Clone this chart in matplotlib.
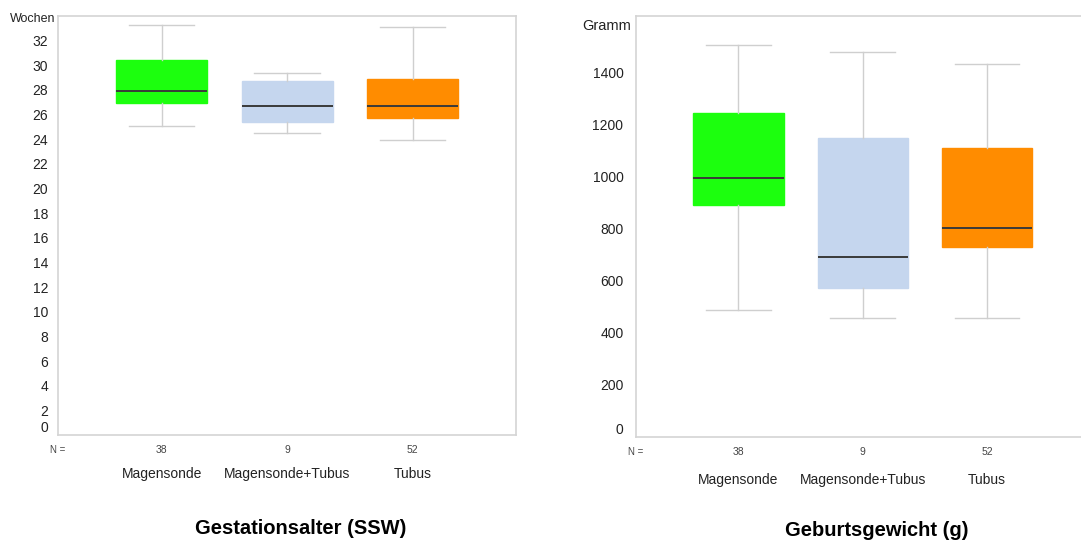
import matplotlib.pyplot as plt

plt.rcParams['font.family'] = ['Liberation Sans', 'DejaVu Sans']

groups = ['Magensonde', 'Magensonde+Tubus', 'Tubus']
n_counts = [38, 9, 52]
colors = ['#1cff0e', '#c5d6ee', '#ff8c00']

# Gestationsalter (Wochen)
ga_whislo = [25.1, 24.5, 23.9]
ga_q1 = [26.9, 25.4, 25.7]
ga_med = [27.9, 26.7, 26.7]
ga_q3 = [30.4, 28.7, 28.9]
ga_whishi = [33.3, 29.4, 33.1]

# Geburtsgewicht (Gramm)
gw_whislo = [488, 457, 457]
gw_q1 = [890, 573, 729]
gw_med = [995, 692, 802]
gw_q3 = [1243, 1148, 1110]
gw_whishi = [1504, 1478, 1432]

ga_ticks = list(range(0, 33, 2))
gw_ticks = list(range(0, 1401, 200))


def make_stats(lo, q1, med, q3, hi):
    return [dict(whislo=a, q1=b, med=c, q3=d, whishi=e, fliers=[])
            for a, b, c, d, e in zip(lo, q1, med, q3, hi)]


def draw_panel(ax, stats, ylim, yticks, unit, unit_xy, unit_size, title, tick_pad, cat_pad):
    pos = list(range(1, len(groups) + 1))
    bp = ax.bxp(stats, positions=pos, widths=0.725, patch_artist=True,
                showfliers=False,
                whiskerprops=dict(color='#cfcfcf', lw=1),
                capprops=dict(color='#cfcfcf', lw=1),
                medianprops=dict(color='#3a3a3a', lw=1.4),
                capwidths=0.52)
    for patch, c in zip(bp['boxes'], colors):
        patch.set_facecolor(c)
        patch.set_edgecolor(c)
    ax.set_xlim(0.175, 3.825)
    ax.set_ylim(*ylim)
    ax.set_yticks(yticks)
    ax.tick_params(axis='y', length=0, pad=tick_pad, labelsize=10, labelcolor='#222222')
    ax.yaxis.get_major_ticks()[0].label1.set_va('bottom')
    ax.set_xticks(pos)
    ax.set_xticklabels(groups, fontsize=10, color='#222222')
    ax.tick_params(axis='x', length=0, pad=cat_pad)
    for s in ax.spines.values():
        s.set_color('#d4d4d4')
        s.set_linewidth(1.2)
    tr = ax.get_xaxis_transform()
    for p, n in zip(pos, n_counts):
        ax.text(p, -0.035, str(n), transform=tr, ha='center', va='center',
                fontsize=7.5, color='#444444')
    ax.text(0.0, -0.035, 'N =', transform=ax.transAxes, ha='center', va='center',
            fontsize=7, color='#444444')
    ax.text(unit_xy[0], unit_xy[1], unit, transform=ax.transAxes, ha='center', va='center',
            fontsize=unit_size, color='#222222')
    ax.text(0.53, -0.222, title, transform=ax.transAxes, ha='center', va='center',
            fontsize=14.5, fontweight='bold')


fig = plt.figure(figsize=(10.81, 5.40), dpi=100)
ax1 = fig.add_axes([0.0537, 0.1944, 0.4237, 0.776])
ax2 = fig.add_axes([0.5883, 0.1907, 0.4197, 0.7796])

draw_panel(ax1, make_stats(ga_whislo, ga_q1, ga_med, ga_q3, ga_whishi),
           (0, 34), ga_ticks, 'Wochen', (-0.055, 0.993), 9,
           'Gestationsalter (SSW)', 7, 23)
draw_panel(ax2, make_stats(gw_whislo, gw_q1, gw_med, gw_q3, gw_whishi),
           (0, 1616), gw_ticks, 'Gramm', (-0.064, 0.977), 10.5,
           'Geburtsgewicht (g)', 9, 26)

fig.savefig('out.png', dpi=100)
